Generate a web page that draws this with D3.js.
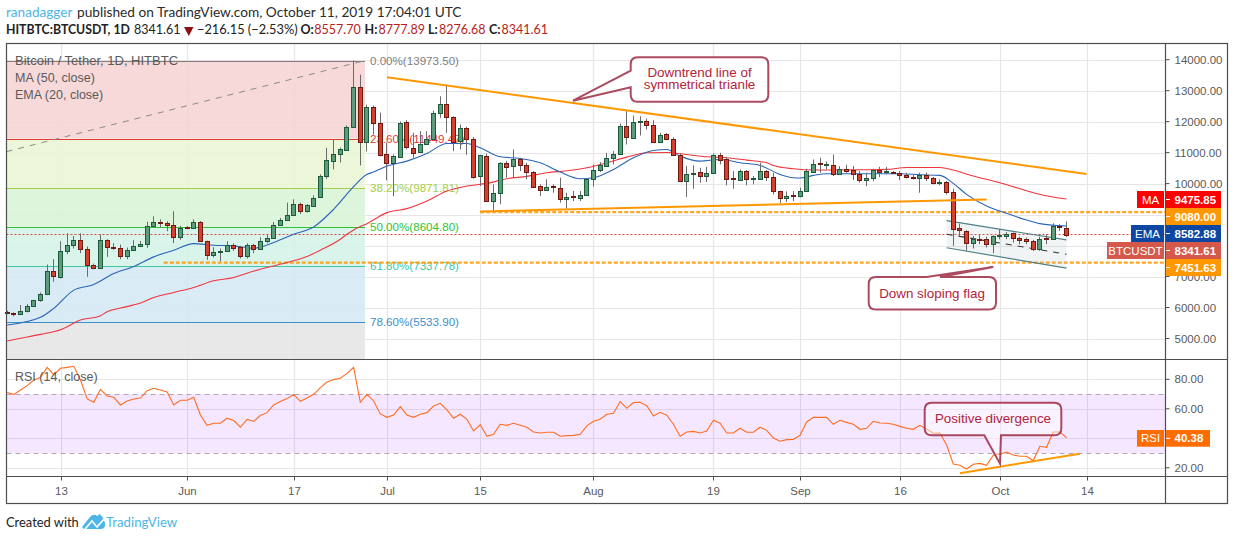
<!DOCTYPE html>
<html><head><meta charset="utf-8">
<script src="https://cdn.jsdelivr.net/npm/d3@7/dist/d3.min.js"></script>
<style>
html,body{margin:0;padding:0;background:#fff}
svg{display:block}
text{font-family:"Liberation Sans",Arial,sans-serif}
.hdr,.hdr text{font-family:"Lato",sans-serif}
</style></head><body><div id="c"></div>
<script>
// ---- data ----
const opens = [
5864,5821,5768,5864,6036,6218,6412,7163,7002,7839,
8022,8193,7904,7388,7292,8193,7968,7936,7667,7861,
8000,8064,8644,8773,8741,8676,8290,8590,8580,8773,
8161,7700,7807,7839,8032,7946,7667,8032,7904,8150,
8258,8676,8837,8998,9352,9116,9288,9546,10233,10716,
10941,11102,11843,13131,11360,12487,11971,10941,10651,10877,
12004,11156,11016,11285,11446,12283,12572,12154,11360,11789,
11446,10222,10898,9460,9707,10673,10544,10791,10608,10383,
9911,9793,9911,9868,9503,9589,9535,9621,10136,10415,
10587,10834,10963,11864,11499,11993,12025,11896,11338,11596,
11456,10930,10082,10308,10383,10243,10351,10930,10802,10168,
10115,10415,10158,10158,10415,10211,9771,9535,9621,9599,
9760,10383,10651,10608,10608,10318,10480,10437,10318,10125,
10190,10447,10383,10383,10351,10286,10222,10179,10286,10190,
10029,10061,9739,8558,8483,8086,8226,8226,8054,8311,
8322,8397,8258,8204,8161,7893,8236,8193,8623,8557.7];
const highs = [
5896,5843,6079,6111,6250,6487,7388,7560,8140,8397,
8311,8397,7968,7421,8354,8204,8075,8032,7936,8172,
8150,8773,8945,8848,8784,9106,8633,8633,8848,8790,
8161,7946,7904,8140,8075,7989,8075,8054,8268,8354,
8762,8891,9385,9492,9385,9342,9621,10300,11155,11424,
11166,11875,13973,13517,12551,12519,12293,11327,10941,12004,
12047,11639,11692,11692,12358,12819,13195,12175,11907,11832,
11510,10930,10973,9975,10694,10726,11102,10834,10673,10404,
9975,10136,9975,10190,9707,9760,9760,10158,10619,10694,
10995,11048,11939,12369,12197,12175,12100,12047,11639,11639,
11488,10973,10565,10587,10512,10544,10973,10995,10866,10404,
10458,10437,10243,10673,10437,10351,9771,9750,9760,9868,
10480,10780,10834,10716,10941,10565,10608,10565,10404,10351,
10480,10544,10533,10404,10404,10351,10297,10351,10351,10211,
10136,10082,9835,8708,8494,8311,8365,8290,8333,8526,
8440,8419,8290,8258,8183,8290,8365,8719,8687,8777.89];
const lows = [
5800,5714,5768,5843,6025,6186,6412,6830,6938,7721,
7904,7753,6991,7238,7292,7635,7861,7560,7560,7839,
7968,7925,8633,8590,8462,8075,8183,8526,8548,8140,
7539,7614,7496,7796,7828,7582,7582,7753,7904,8075,
8226,8666,8827,8977,9020,9063,9256,9546,10150,10458,
10683,11086,11810,10587,11038,11585,10877,10104,9589,10845,
11102,10834,10995,11263,11424,12122,11639,11048,11102,10930,
10158,9921,9406,9138,9331,10190,10190,10404,10136,9868,
9600,9760,9707,9385,9192,9439,9439,9600,9900,10372,
10565,10619,10941,11263,11478,11553,11746,11338,11317,11424,
10887,10050,9567,9835,10029,10050,10329,10619,9943,9835,
10082,9943,9975,10136,10082,9653,9363,9406,9438,9556,
9750,10351,10351,10458,10243,10297,10351,10115,10029,9921,
10082,10211,10297,10318,10115,10168,10136,9707,10082,9975,
9943,9653,7989,8311,7828,7904,8043,7936,7753,8204,
8204,8097,8043,8043,7828,7828,8043,8183,8473,8276.68];
const closes = [
5821,5778,5875,6036,6229,6422,7163,6991,7839,8032,
8193,7904,7378,7281,8193,7957,7936,7678,7871,8000,
8064,8644,8773,8730,8676,8279,8580,8569,8773,8161,
7700,7807,7839,8032,7936,7667,8032,7904,8161,8258,
8676,8837,8998,9352,9116,9299,9546,10233,10748,10941,
11102,11843,13131,11360,12487,11971,10941,10651,10877,11971,
11188,10995,11285,11446,12293,12572,12143,11360,11789,11446,
10233,10909,9460,9707,10673,10544,10780,10608,10372,9900,
9793,9900,9868,9503,9578,9546,9621,10136,10426,10587,
10834,10963,11864,11510,12004,12025,11886,11349,11574,11435,
10930,10082,10319,10340,10243,10351,10930,10780,10158,10125,
10415,10158,10190,10415,10222,9760,9535,9610,9599,9771,
10394,10640,10608,10630,10318,10480,10415,10318,10125,10190,
10437,10383,10404,10351,10286,10211,10179,10275,10190,10018,
10061,9739,8548,8483,8086,8226,8193,8054,8311,8344,
8376,8247,8183,8150,7893,8226,8193,8623,8580,8341.61];
const rsiValues = [
71,69.8,72.8,75.7,79.5,81.4,88.1,83,87.5,88.1,
88.8,79.5,66.7,64.4,73.2,68.7,67.8,62.6,65.3,66.7,
67.3,72.3,73.9,72.8,71.4,62.6,65.8,65.8,67.8,55.8,
48.8,50.2,50.2,53.6,52,47.5,52.9,51.5,55.4,57.4,
62.6,64.9,66.9,69.8,65.1,67.3,69.8,74.4,78.2,79.8,
80.7,84,88.1,64.4,69.8,65.3,56.5,54.2,55.8,61.5,
55.8,54.2,56.3,57.4,61.9,63.7,59.2,53.6,56.3,52.9,
45,49.3,41.4,42.7,49.5,48.8,50.2,48.8,47.5,44.3,
43.6,44.1,44.1,41.4,41.8,42,42.7,48.4,51.5,52.9,
56.3,57,64.9,60.3,64.2,64.4,62.1,55.1,57.6,55.6,
49.5,41.4,44.3,44.7,43.6,45,52.2,50.2,43.6,43.6,
46.8,44.1,44.1,47.5,45.4,40.2,38,39.1,39.3,42,
51.1,54.2,54.2,54.2,49.5,52.2,50.8,49.5,46.1,46.8,
51.5,50.4,50.2,49.5,48.1,46.8,46.1,48.8,46.3,43.4,
43.6,35.5,22.6,21.7,19.2,22.4,23,21.7,28.5,29.2,
30.7,28.7,27.8,27.8,24.9,34.6,33.9,44.3,44.3,40.38];
const maDates = ["05-05","05-07","05-10","05-13","05-16","05-19","05-20","05-22","05-25","05-27","05-30","06-02","06-05","06-08","06-10","06-13","06-16","06-19","06-21","06-24","06-25","06-26","06-28","07-01","07-04","07-07","07-10","07-13","07-16","07-19","07-22","07-25","07-28","07-31","08-03","08-06","08-09","08-12","08-15","08-18","08-21","08-24","08-27","08-28","08-31","09-03","09-06","09-10","09-14","09-17","09-20","09-22","09-24","09-27","09-30","10-03","10-06","10-09","10-11"];
const maValues = [4920,5006,5134,5285,5596,5736,5864,5982,6143,6326,6487,6648,6862,6970,7109,7292,7453,7646,7850,8204,8365,8505,8708,9063,9192,9438,9760,9921,10007,10158,10233,10351,10415,10512,10673,10855,10995,11005,10941,10866,10834,10759,10673,10587,10480,10437,10437,10447,10458,10522,10522,10522,10437,10243,10082,9900,9707,9567,9503];
const emaDates = ["05-05","05-10","05-12","05-15","05-18","05-21","05-24","05-27","05-30","06-02","06-05","06-08","06-11","06-14","06-17","06-20","06-23","06-26","06-28","06-29","07-01","07-04","07-07","07-10","07-13","07-15","07-18","07-21","07-24","07-27","07-30","08-01","08-04","08-07","08-10","08-12","08-14","08-17","08-20","08-23","08-26","08-29","08-31","09-01","09-03","09-05","09-09","09-12","09-16","09-19","09-22","09-24","09-26","09-29","10-02","10-05","10-07","10-10","10-11"];
const emaValues = [5435,5682,5972,6562,6744,7099,7324,7635,7850,8064,8011,7989,7914,8097,8365,8601,9170,9900,10300,10372,10565,10726,10973,11295,11295,11156,10866,10812,10673,10372,10158,10190,10458,10834,11070,11102,10887,10726,10780,10673,10587,10297,10190,10179,10265,10318,10318,10318,10318,10286,10265,10007,9653,9278,9041,8827,8708,8644,8633];
const priceTicks = [14000,13000,12000,11000,10000,9000,8000,7000,6000,5000];
const hiddenPriceLabels = [9000,8000];
const rsiTicks = [80,60,40,20];
const timeTicks = [["05-13","13"],["06-01","Jun"],["06-17","17"],["07-01","Jul"],["07-15","15"],["08-01","Aug"],["08-19","19"],["09-01","Sep"],["09-16","16"],["10-01","Oct"],["10-14","14"]];
const fibLevels = [13973.5,11449.47,9871.81,8604.8,7337.78,5533.9];
const fibNames = ["0.00%(13973.50)","23.60%(11449.47)","38.20%(9871.81)","50.00%(8604.80)","61.80%(7337.78)","78.60%(5533.90)"];
const fibColors = ["#808080","#e53935","#a5cf45","#2fc42f","#3fc9a0","#3d8fc9"];
const fibFills = ["#f4d3d2","#e9f4d2","#d7f3d4","#d3f3e8","#d3e8f3","#e4e4e4"];
const downtrendLine = [["07-01",13432],["10-14",10313]];
const supportLine = [["07-15",9100],["09-29",9484]];
const channelUpper = [["09-23",8806],["10-11",8184]];
const channelMiddle = [["09-23",8367],["10-11",7722]];
const channelLower = [["09-23",7929],["10-11",7273]];
const rsiTrend = [["09-25",16.3],["10-13",29.6]];

// ---- layout ----
const W=1234,H=540,L=6.5,R=1165.5,RO=1227.5,T=43.5,B1=359.5,B2=476.5,B3=503.5;
const d=s=>new Date(2019,+s.slice(0,2)-1,+s.slice(3));
const start=d("05-05");
const days=opens.map((_,i)=>d3.timeDay.offset(start,i));
const x=d3.scaleTime().domain([d("05-13"),d("10-14")]).range([60.5,1086.5]);
const y=d3.scaleLinear().domain([5000,14000]).range([338.5,59.7]);
const yr=d3.scaleLinear().domain([20,80]).range([467.8,379.3]);
const svg=d3.select("#c").append("svg").attr("width",W).attr("height",H);
const txtCol="#5a5a5a";

// grid
const grid=svg.append("g").attr("stroke","#e6e6e6").attr("stroke-width",1.2);
const vTicks=timeTicks.map(t=>Math.round(x(d(t[0])))+.5);
vTicks.forEach(v=>{grid.append("line").attr("x1",v).attr("x2",v).attr("y1",T).attr("y2",B2);});
priceTicks.forEach(p=>grid.append("line").attr("x1",L).attr("x2",R).attr("y1",Math.round(y(p))+.5).attr("y2",Math.round(y(p))+.5));
rsiTicks.forEach(p=>grid.append("line").attr("x1",L).attr("x2",R).attr("y1",Math.round(yr(p))+.5).attr("y2",Math.round(yr(p))+.5));

// fib
const fibRight=365;
const fibG=svg.append("g");
fibLevels.forEach((lv,i)=>{
  const y0=y(lv), y1=i<fibLevels.length-1?y(fibLevels[i+1]):B1;
  fibG.append("rect").attr("x",L).attr("width",fibRight-L).attr("y",y0).attr("height",y1-y0).attr("fill",fibFills[i]).attr("opacity",.86);
});
fibLevels.forEach((lv,i)=>{
  fibG.append("line").attr("x1",L).attr("x2",fibRight).attr("y1",Math.round(y(lv))+.5).attr("y2",Math.round(y(lv))+.5).attr("stroke",fibColors[i]).attr("stroke-width",1.1);
  fibG.append("text").attr("x",370).attr("y",y(lv)+4).attr("font-size",11.6).attr("fill",fibColors[i]).text(fibNames[i]);
});
fibG.append("line").attr("x1",L).attr("y1",y(11032)).attr("x2",fibRight).attr("y2",y(fibLevels[0])).attr("stroke","#8a8a8a").attr("stroke-width",1).attr("stroke-dasharray","6,6");

// rsi band
svg.append("rect").attr("x",L).attr("width",R-L).attr("y",yr(70)).attr("height",yr(30)-yr(70)).attr("fill","#9915ff").attr("opacity",.1);
[70,30].forEach(v=>svg.append("line").attr("x1",L).attr("x2",R).attr("y1",Math.round(yr(v))+.5).attr("y2",Math.round(yr(v))+.5).attr("stroke","#b3a6b8").attr("stroke-width",1).attr("stroke-dasharray","5,4"));

// horizontal dashed levels + last price
const dl=(p,x0)=>svg.append("line").attr("x1",x0).attr("x2",R).attr("y1",y(p)).attr("y2",y(p)).attr("stroke","#ff9800").attr("stroke-width",2.2).attr("stroke-dasharray","4,2").attr("opacity",.85);
dl(9080,x(d("07-15")));
dl(7451.63,x(new Date(2019,4,28,12)));
svg.append("line").attr("x1",L).attr("x2",R).attr("y1",Math.round(y(closes[closes.length-1])-1)+.5).attr("y2",Math.round(y(closes[closes.length-1])-1)+.5).attr("stroke","#d9483b").attr("stroke-width",1).attr("stroke-dasharray","2,2");

// flag channel
const pt=a=>[x(d(a[0])),y(a[1])];
svg.append("polygon").attr("points",[pt(channelUpper[0]),pt(channelUpper[1]),pt(channelLower[1]),pt(channelLower[0])].join(" ")).attr("fill","#9db2bd").attr("opacity",.15);
const seg=(a,c,w,dash)=>svg.append("line").attr("x1",pt(a[0])[0]).attr("y1",pt(a[0])[1]).attr("x2",pt(a[1])[0]).attr("y2",pt(a[1])[1]).attr("stroke",c).attr("stroke-width",w).attr("stroke-dasharray",dash||null);
seg(channelUpper,"#4f8086",1.2);seg(channelLower,"#4f8086",1.2);
seg(channelMiddle,"#333",1.1,"6,6");

// MA / EMA
const lg=d3.line().x(p=>x(p[0])).y(p=>y(p[1])).curve(d3.curveMonotoneX);
svg.append("path").attr("d",lg(maDates.map((s,i)=>[d(s),maValues[i]]))).attr("fill","none").attr("stroke","#f0353c").attr("stroke-width",1.1);
svg.append("path").attr("d",lg(emaDates.map((s,i)=>[d(s),emaValues[i]]))).attr("fill","none").attr("stroke","#2a65b8").attr("stroke-width",1.1);

// candles
const cg=svg.append("g");
days.forEach((dy,i)=>{
  const cx=Math.round(x(dy)-.5)+.5, up=closes[i]>=opens[i];
  cg.append("line").attr("x1",cx).attr("x2",cx).attr("y1",y(highs[i])).attr("y2",y(lows[i])).attr("stroke","#6b6b6b").attr("stroke-width",1);
  const t=y(Math.max(opens[i],closes[i])),b=y(Math.min(opens[i],closes[i]));
  cg.append("rect").attr("x",cx-2).attr("width",4).attr("y",Math.round(t)+.5).attr("height",Math.max(Math.round(b-t),.5))
    .attr("fill",up?"#5c9c7b":"#d5412f").attr("stroke",up?"#1d5a3b":"#6e1a12").attr("stroke-width",1);
});

// trend lines
seg(downtrendLine,"#ff9800",2);
seg(supportLine,"#ff9800",2);

// RSI line
const lr=d3.line().x((v,i)=>x(days[i])).y(v=>yr(v));
svg.append("path").attr("d",lr(rsiValues)).attr("fill","none").attr("stroke","#ff6d21").attr("stroke-width",1.1);
const a=rsiTrend;
svg.append("line").attr("x1",x(d(a[0][0]))).attr("y1",yr(a[0][1])).attr("x2",x(d(a[1][0]))).attr("y2",yr(a[1][1])).attr("stroke","#ff9800").attr("stroke-width",2);

// callouts
function bubble(x0,y0,x1,y1,r,tail,lines,tx,ty,fo){
  const side=tail.side;
  let p=`M${x0+r},${y0}`;
  if(side==="top"){p+=`L${tail.a},${y0}L${tail.tx},${tail.ty}L${tail.b},${y0}`;}
  p+=`L${x1-r},${y0}Q${x1},${y0} ${x1},${y0+r}L${x1},${y1-r}Q${x1},${y1} ${x1-r},${y1}`;
  if(side==="bottom"){p+=`L${tail.b},${y1}L${tail.tx},${tail.ty}L${tail.a},${y1}`;}
  p+=`L${x0+r},${y1}Q${x0},${y1} ${x0},${y1-r}`;
  if(side==="left"){p+=`L${x0},${tail.b}L${tail.tx},${tail.ty}L${x0},${tail.a}`;}
  p+=`L${x0},${y0+r}Q${x0},${y0} ${x0+r},${y0}Z`;
  svg.append("path").attr("d",p).attr("fill","#fff").attr("fill-opacity",fo).attr("stroke","#9e2a44").attr("stroke-opacity",.85).attr("stroke-width",2);
  const te=svg.append("text").attr("text-anchor","middle").attr("font-size",13.4).attr("font-family","Open Sans").attr("fill","#b3243c");
  lines.forEach((s,i)=>te.append("tspan").attr("x",tx).attr("y",ty+i*12.5).text(s));
}
bubble(630.7,57.3,768.3,101.7,7,{side:"left",a:70.7,b:87.3,tx:x(d("07-29"))-.5,ty:y(12677)},["Downtrend line of","symmetrical trianle"],699.5,76.7,.9);
bubble(868.7,277,996,309.5,7,{side:"top",a:926.7,b:940,tx:x(d("09-30")),ty:y(7308)},["Down sloping flag"],932,297.5,.9);
bubble(924.7,402.7,1061.3,435.3,7,{side:"bottom",a:984.3,b:1001,tx:1000,ty:yr(22.8)},["Positive divergence"],993,423,.45);

// borders
const bd=svg.append("g").attr("stroke","#4e4e4e").attr("stroke-width",1.2).attr("fill","none");
bd.append("rect").attr("x",L).attr("y",T).attr("width",RO-L).attr("height",B3-T);
bd.append("line").attr("x1",R).attr("x2",R).attr("y1",T).attr("y2",B3);
bd.append("line").attr("x1",L).attr("x2",RO).attr("y1",B1).attr("y2",B1);
bd.append("line").attr("x1",L).attr("x2",RO).attr("y1",B2).attr("y2",B2);

// axes
const tickT=(g,px,py,s)=>{g.append("line").attr("x1",R).attr("x2",R+4).attr("y1",py).attr("y2",py).attr("stroke","#4e4e4e");if(s)g.append("text").attr("x",px).attr("y",py+4).attr("font-size",11.5).attr("fill",txtCol).text(s);};
const ax=svg.append("g");
priceTicks.forEach(p=>tickT(ax,1174.5,y(p),hiddenPriceLabels.includes(p)?null:d3.format(".2f")(p)));
rsiTicks.forEach(p=>tickT(ax,1174.5,yr(p),p===40?null:d3.format(".2f")(p)));
timeTicks.forEach(t=>{const v=Math.round(x(d(t[0])))+.5;ax.append("line").attr("x1",v).attr("x2",v).attr("y1",B2).attr("y2",B2+4).attr("stroke","#4e4e4e");ax.append("text").attr("x",v).attr("y",495).attr("text-anchor","middle").attr("font-size",11.5).attr("fill",txtCol).text(t[1]);});

// labels on axis
function tag(name,val,color,y0,y1,lx,vr){
  if(name){svg.append("rect").attr("x",lx).attr("y",y0).attr("width",1164-lx).attr("height",y1-y0).attr("fill",color);
   svg.append("text").attr("x",(lx+1164)/2).attr("y",(y0+y1)/2+4).attr("text-anchor","middle").attr("font-size",11.5).attr("fill","#fff").text(name);}
  svg.append("rect").attr("x",1165.8).attr("y",y0).attr("width",vr-1165.8).attr("height",y1-y0).attr("fill",color);
  svg.append("line").attr("x1",1166).attr("x2",1170).attr("y1",(y0+y1)/2).attr("y2",(y0+y1)/2).attr("stroke","#fff");
  svg.append("text").attr("x",1174.5).attr("y",(y0+y1)/2+4).attr("font-size",11.5).attr("font-weight","bold").attr("fill","#fff").text(val);
}
tag("MA","9475.85","#ff0000",191,208,1137,1221);
tag("", "9080.00","#ff9800",208,225,0,1221);
tag("EMA","8582.88","#0d47a1",225,242,1131,1221);
tag("BTCUSDT","8341.61","#d5594a",242,259,1107,1221);
tag("", "7451.63","#ff9800",259,276,0,1221);
tag("RSI","40.38","#ff6d00",430,446.7,1137,1210);

// pane legends
[["Bitcoin / Tether, 1D, HITBTC",65,13],["MA (50, close)",82,12.5],["EMA (20, close)",99,12.5],["RSI (14, close)",381,12.5]].forEach(r=>
 svg.append("text").attr("x",15).attr("y",r[1]).attr("font-size",r[2]).attr("fill","#5a5a5a").attr("font-family","Open Sans").text(r[0]));

// header
const hd=(px,py,s,fs,col,bold)=>svg.append("text").attr("class","hdr").attr("x",px).attr("y",py).attr("font-size",fs).attr("fill",col).attr("font-weight",bold?"bold":null).text(s);
hd(6,17,"ranadagger",13.6,"#4db6e6");
hd(77,17,"published on TradingView.com, October 11, 2019 17:04:01 UTC",13.7,"#2b2b2b");
hd(6,34,"HITBTC:BTCUSDT, 1D",12.3,"#222",true);
hd(134,34,"8341.61",12.5,"#222");
svg.append("path").attr("d","M184,27 L193.5,27 L188.8,36 Z").attr("fill","#8b0f0f");
hd(197,34,"−216.15 (−2.53%)",12.8,"#222");
[["O:","8557.70",300.5,314.3],["H:","8777.89",364.5,378.5],["L:","8276.68",428,439],["C:","8341.61",489,501.5]].forEach(r=>{
  hd(r[2],34,r[0],12.5,"#222",true);
  hd(r[3],34,r[1],12.5,"#b71c1c");
});

// footer
hd(6,526.7,"Created with",12.9,"#222");
svg.append("path").attr("d","M82,527 L90,517 Q94,513 97,516 L100,514 Q104,518 105,523 L105,526 Q104,529 101,529 L85,529 Q83,529 82,527 Z").attr("fill","#4db6e6");
svg.append("polyline").attr("points","85,529 92,521 97,527 104,519").attr("fill","none").attr("stroke","#fff").attr("stroke-width",1.6);
hd(106,526.7,"TradingView",13.2,"#4db6e6");
</script></body></html>
